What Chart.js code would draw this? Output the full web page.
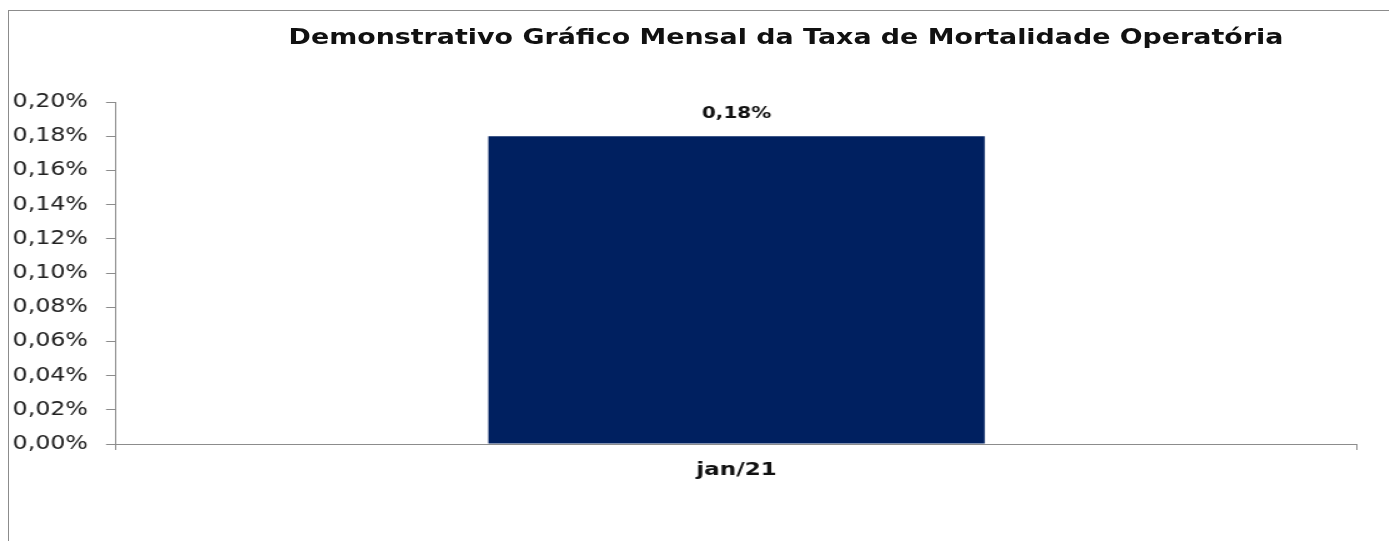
<!DOCTYPE html>
<html>
<head>
<meta charset="utf-8">
<script src="https://cdn.jsdelivr.net/npm/chart.js@4.4.1/dist/chart.umd.min.js"></script>
<style>
  html, body { margin: 0; padding: 0; background: #fff; width: 1389px; height: 541px; overflow: hidden; }
  #frame { position: absolute; left: 8px; top: 10px; width: 2000px; height: 1000px;
           border-top: 1px solid #8c8c8c; border-left: 1px solid #8c8c8c; }
  #wrap { position: absolute; left: 0; top: 0; width: 1111px; height: 541px;
          transform: scaleX(1.25); transform-origin: 0 0; }
  #title { position: absolute; top: 25px; left: 628.8px; transform: translateX(-50%);
           white-space: nowrap; font: bold 21.5px "DejaVu Sans", sans-serif; line-height: 24px; color: #111; }
  canvas { position: absolute; left: 0; top: 0; }
</style>
</head>
<body>
<div id="frame"></div>
<div id="wrap">
  <div id="title">Demonstrativo Gráfico Mensal da Taxa de Mortalidade Operatória</div>
  <canvas id="c" width="1111" height="541" style="width:1111px;height:541px"></canvas>
</div>
<script>
const categories = ["jan/21"];
const taxaMortalidade = [0.18];
const yTickMax = 0.20;
const yTickStep = 0.02;

const fmt = v => v.toFixed(2).replace('.', ',') + '%';

const valueLabels = {
  id: 'valueLabels',
  afterDatasetsDraw(chart) {
    const ctx = chart.ctx;
    const meta = chart.getDatasetMeta(0);
    ctx.save();
    ctx.font = 'bold 16px "DejaVu Sans", sans-serif';
    ctx.fillStyle = '#111';
    ctx.textAlign = 'center';
    ctx.textBaseline = 'middle';
    meta.data.forEach((bar, i) => {
      ctx.fillText(fmt(chart.data.datasets[0].data[i]), bar.x, bar.y - 22);
    });
    ctx.restore();
  }
};

new Chart(document.getElementById('c'), {
  type: 'bar',
  data: {
    labels: categories,
    datasets: [{
      data: taxaMortalidade,
      backgroundColor: '#002060',
      borderWidth: 0,
      categoryPercentage: 1,
      barPercentage: 0.4
    }]
  },
  options: {
    responsive: false,
    devicePixelRatio: 1,
    animation: false,
    layout: { padding: { top: 102, right: 25.4, bottom: 0, left: 0 } },
    plugins: { legend: { display: false }, title: { display: false }, tooltip: { enabled: false } },
    scales: {
      x: {
        offset: true,
        grid: { offset: true, drawOnChartArea: false, drawTicks: true, tickLength: 6, color: '#8c8c8c' },
        border: { display: true, color: '#8c8c8c', width: 1 },
        ticks: { color: '#111', font: { family: '"DejaVu Sans", sans-serif', size: 18.5, weight: 'bold' }, padding: 9 },
        afterFit(scale) { scale.height = 97; }
      },
      y: {
        min: 0,
        max: yTickMax,
        grid: { drawOnChartArea: false, drawTicks: true, tickLength: 8, color: '#8c8c8c' },
        border: { display: true, color: '#8c8c8c', width: 1 },
        ticks: { stepSize: yTickStep, color: '#222', padding: 14.4,
                 font: { family: '"DejaVu Sans", sans-serif', size: 19 },
                 callback: v => fmt(v) },
        afterFit(scale) { scale.width = 92.8; }
      }
    }
  },
  plugins: [valueLabels]
});
</script>
</body>
</html>
